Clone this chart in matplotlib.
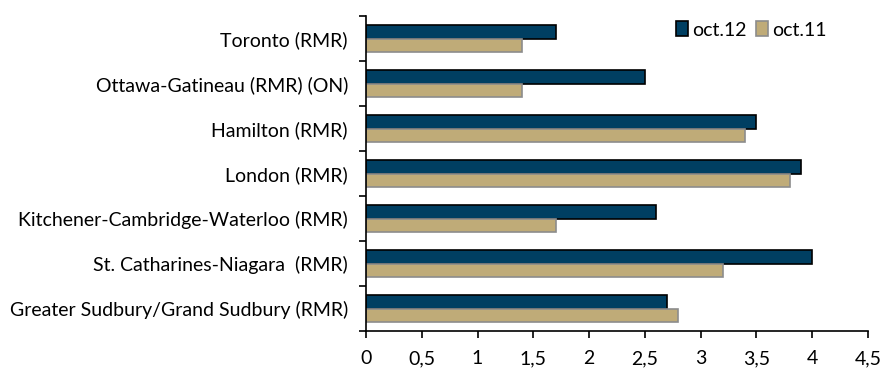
import matplotlib
matplotlib.use("Agg")
import matplotlib.pyplot as plt
import numpy as np
from matplotlib.ticker import FixedLocator

categories = ["Toronto (RMR)", "Ottawa-Gatineau (RMR) (ON)", "Hamilton (RMR)", "London (RMR)",
              "Kitchener-Cambridge-Waterloo (RMR)", "St. Catharines-Niagara  (RMR)",
              "Greater Sudbury/Grand Sudbury (RMR)"]
oct12 = [1.7, 2.5, 3.5, 3.9, 2.6, 4.0, 2.7]
oct11 = [1.4, 1.4, 3.4, 3.8, 1.7, 3.2, 2.8]
xticks = [0, 0.5, 1, 1.5, 2, 2.5, 3, 3.5, 4, 4.5]
xticklabels = ["0", "0,5", "1", "1,5", "2", "2,5", "3", "3,5", "4", "4,5"]

plt.rcParams['font.family'] = ['Lato', 'DejaVu Sans']

fig = plt.figure(figsize=(8.83, 3.79), dpi=100)
ax = fig.add_axes([366/883, 1-331/379, (868-366)/883, (331-16)/379])

n = len(categories)
y = np.arange(n)[::-1].astype(float)
h = 0.3
ax.barh(y + h/2, oct12, height=h, color="#003F62", edgecolor="black", linewidth=1.2, label="oct.12")
ax.barh(y - h/2, oct11, height=h, color="#BFAB78", edgecolor="#8C8C8C", linewidth=1.2, label="oct.11")

ax.set_xlim(0, 4.5)
ax.set_ylim(-0.5, n - 0.5)
ax.set_xticks(xticks)
ax.set_xticklabels(xticklabels, fontsize=14)
ax.set_yticks(y)
ax.set_yticklabels(categories, fontsize=14)
ax.tick_params(axis='y', which='major', length=0, pad=13)
ax.yaxis.set_minor_locator(FixedLocator(np.arange(-0.5, n, 1.0)))
ax.tick_params(axis='y', which='minor', length=5, width=1.2, direction='out')
ax.tick_params(axis='x', length=5, width=1.2, direction='out', pad=9)
for s in ['top', 'right']:
    ax.spines[s].set_visible(False)
for s in ['left', 'bottom']:
    ax.spines[s].set_linewidth(1.2)

ax.legend(loc='upper right', bbox_to_anchor=(0.94, 1.02), ncol=2, frameon=False, fontsize=14,
          handlelength=0.6, handleheight=0.8, handletextpad=0.2, columnspacing=0.5, borderaxespad=0.2)

fig.savefig("out.png", dpi=100)
